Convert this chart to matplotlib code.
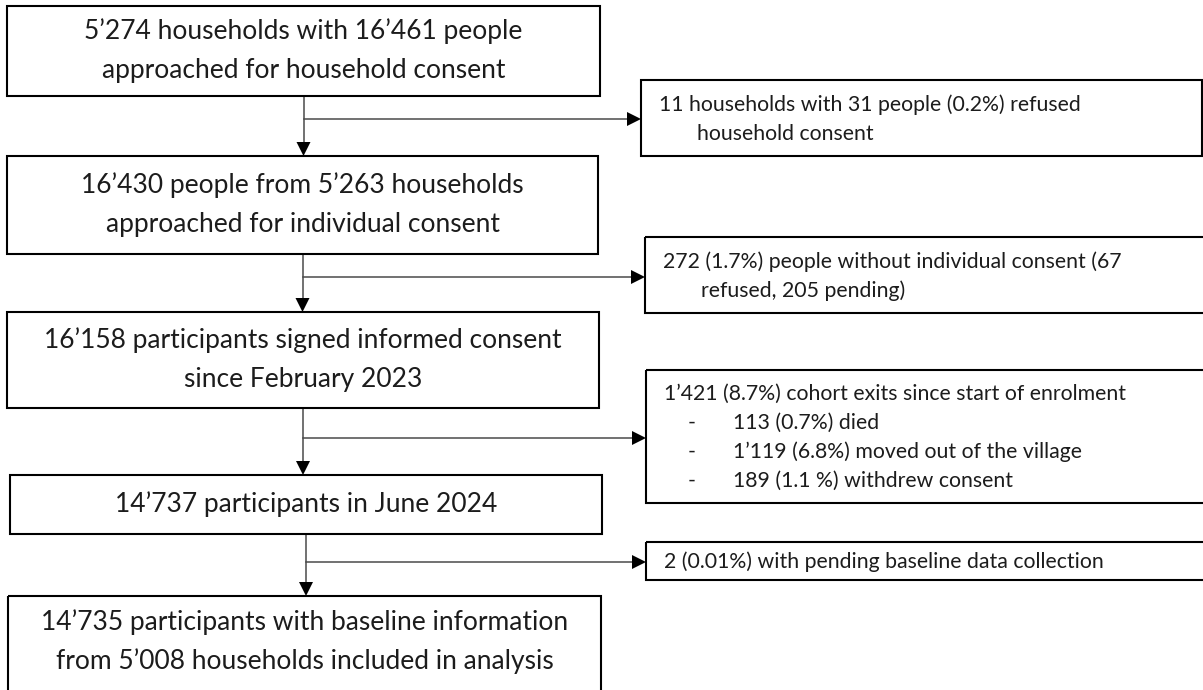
import matplotlib
matplotlib.use("Agg")
import matplotlib.pyplot as plt
from matplotlib.patches import Rectangle, Polygon

# flow numbers (main column) and exclusions (side column)
main_texts = [
    "5\u2019274 households with 16\u2019461 people\napproached for household consent",
    "16\u2019430 people from 5\u2019263 households\napproached for individual consent",
    "16\u2019158 participants signed informed consent\nsince February 2023",
    "14\u2019737 participants in June 2024",
    "14\u2019735 participants with baseline information\nfrom 5\u2019008 households included in analysis",
]
side_texts = [
    ["11 households with 31 people (0.2%) refused", "household consent"],
    ["272 (1.7%) people without individual consent (67", "refused, 205 pending)"],
    ["1\u2019421 (8.7%) cohort exits since start of enrolment",
     "-\t113 (0.7%) died",
     "-\t1\u2019119 (6.8%) moved out of the village",
     "-\t189 (1.1 %) withdrew consent"],
    ["2 (0.01%) with pending baseline data collection"],
]

# layout in pixels (x0, x1, y0, y1)
main_boxes = [(7, 600, 6, 96), (7, 598, 156, 254), (7, 599, 312, 408),
              (10, 602, 475, 534), (8, 601, 596, 720)]
side_boxes = [(641, 1202, 80, 156), (645, 1215, 237, 313),
              (646, 1215, 370, 503), (646, 1215, 542, 580)]
branch_y = [119, 277, 438, 562]

W, H = 1203, 690
fig = plt.figure(figsize=(W / 100, H / 100), dpi=100)
ax = fig.add_axes([0, 0, 1, 1])
ax.set_xlim(0, W)
ax.set_ylim(H, 0)
ax.axis("off")

font = ["Lato", "DejaVu Sans"]
tcol = "#1c1c1c"
lcol = "#4a4a4a"
ahw, ahl = 7, 14   # arrow head half width / length in px
fs_main, fs_side = 19, 15.3


def head_down(x, ytip):
    ax.add_patch(Polygon([(x - ahw, ytip - ahl), (x + ahw, ytip - ahl), (x, ytip)],
                         closed=True, color="black", lw=0, zorder=4))


def head_right(xtip, y):
    ax.add_patch(Polygon([(xtip - ahl, y - ahw), (xtip - ahl, y + ahw), (xtip, y)],
                         closed=True, color="black", lw=0, zorder=4))


for (x0, x1, y0, y1), txt in zip(main_boxes, main_texts):
    ax.add_patch(Rectangle((x0, y0), x1 - x0, y1 - y0, fill=False,
                           ec="black", lw=1.5, zorder=3))
    lines = txt.split("\n")
    yc = (y0 + y1) / 2 if y1 <= H else y0 + 46
    step = 39
    for i, ln in enumerate(lines):
        yy = yc + (i - (len(lines) - 1) / 2) * step
        ax.text((x0 + x1) / 2, yy, ln, ha="center", va="center",
                fontsize=fs_main, color=tcol, family=font)

for (x0, x1, y0, y1), lines in zip(side_boxes, side_texts):
    ax.add_patch(Rectangle((x0, y0), x1 - x0, y1 - y0, fill=False,
                           ec="black", lw=1.5, zorder=3))
    step = 29
    yc = (y0 + y1) / 2
    for i, ln in enumerate(lines):
        yy = yc + 1 + (i - (len(lines) - 1) / 2) * step
        if ln.startswith("-\t"):
            ax.text(x0 + 42, yy, "-", ha="left", va="center",
                    fontsize=fs_side, color=tcol, family=font)
            ax.text(x0 + 87, yy, ln[2:], ha="left", va="center",
                    fontsize=fs_side, color=tcol, family=font)
        else:
            ax.text(x0 + (18 if i == 0 else 56), yy, ln, ha="left", va="center",
                    fontsize=fs_side, color=tcol, family=font)

# connectors
for k in range(len(main_boxes) - 1):
    a = main_boxes[k]
    b = main_boxes[k + 1]
    x = (a[0] + a[1]) / 2
    ax.plot([x, x], [a[3], b[2] - ahl], color=lcol, lw=1.1, zorder=2)
    head_down(x, b[2])
    s = side_boxes[k]
    ax.plot([x, s[0] - ahl], [branch_y[k], branch_y[k]], color=lcol, lw=1.1, zorder=2)
    head_right(s[0], branch_y[k])

fig.savefig("out.png", dpi=100, facecolor="white")
